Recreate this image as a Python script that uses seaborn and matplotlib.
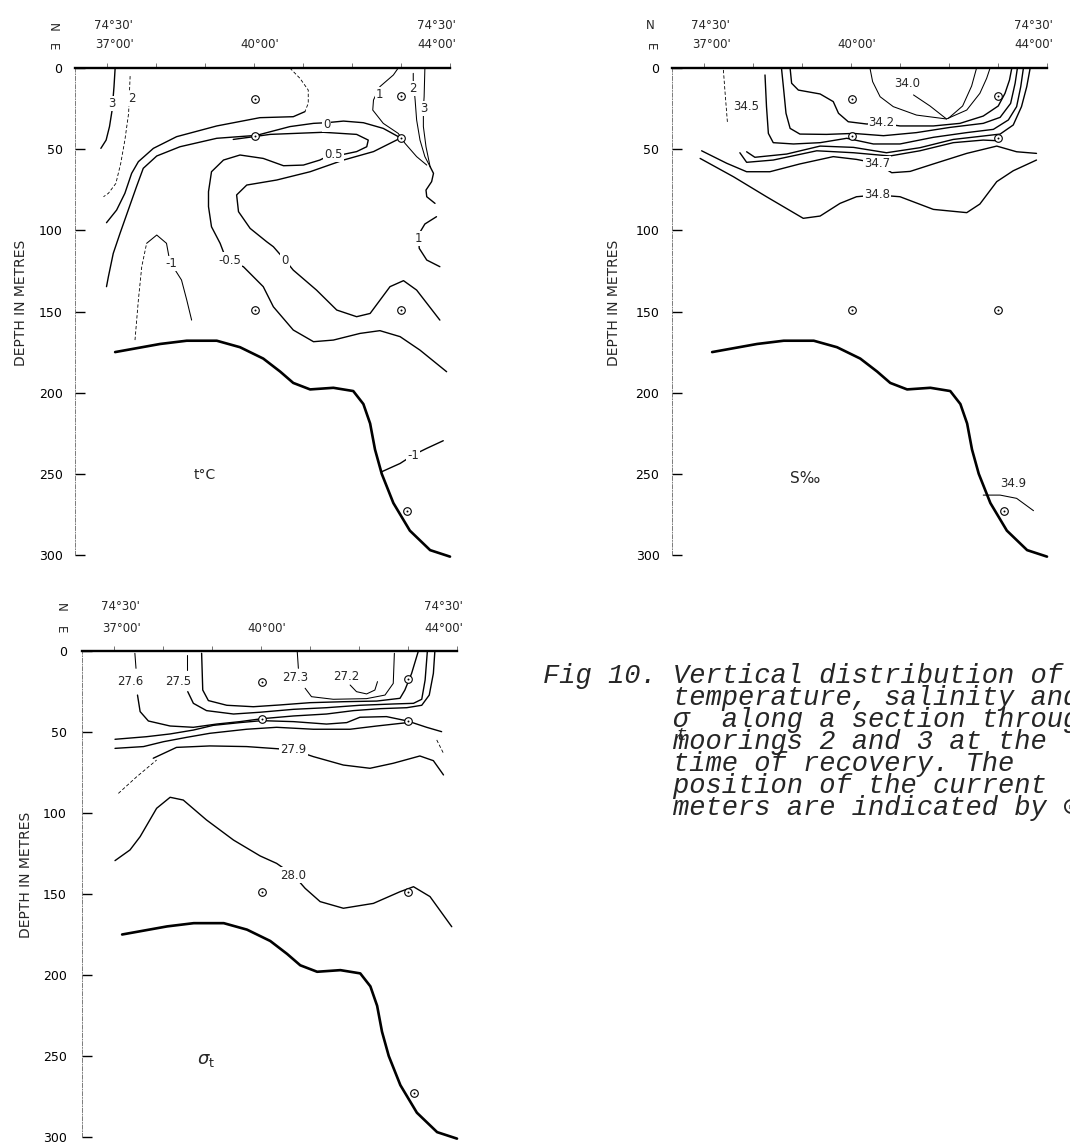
import matplotlib
matplotlib.use("Agg")
import matplotlib.pyplot as plt
import seaborn as sns

sns.set_style("white")
plt.rcParams["font.family"] = ["DejaVu Sans"]

# ---------------------------------------------------------------
# DATA  (x = distance along the section, 0 = west end of the
#        surface line, 100 = 44°00'E ; z = depth in metres)
# ---------------------------------------------------------------
depth_ticks = [0, 50, 100, 150, 200, 250, 300]
lon_ticks = [37, 38, 39, 40, 41, 42, 43, 44]
lon_tick_d = [8.4, 21.5, 34.6, 47.7, 60.8, 73.9, 86.9, 100.0]

bathy_d = [10.7, 22.7, 29.8, 37.8, 44.0, 50.2, 54.7, 58.2, 62.7, 68.9, 74.2, 76.9,
           78.7, 80.0, 81.8, 84.9, 89.3, 94.7, 100.0]
bathy_z = [175, 170, 168, 168, 172, 179, 187, 194, 198, 197, 199, 207,
           219, 235, 250, 268, 285, 297, 301]

meter_d = [48, 48, 48, 87, 87, 87, 88.5]
meter_z = [19, 42, 149, 17, 43, 149, 273]

# ---- temperature (t °C) isolines ----
t_3_d = [10.7, 10.4, 9.9, 9.2, 8.3, 6.9]
t_3_z = [0.2, 11.5, 25.9, 36.1, 44.4, 49.5]
t_2_d = [14.7, 14.3, 13.3, 12.2, 10.9, 8.9, 7.6]
t_2_z = [5.0, 27.9, 44.4, 58.7, 71.1, 77.2, 79.3]
t_1top_d = [57.3, 60.0, 62.2, 62.2, 61.3]
t_1top_z = [0.0, 6.4, 13.6, 21.8, 26.9]
t_1_d = [61.3, 58.2, 49.3, 37.8, 27.1, 20.9, 16.9, 15.1, 13.3, 11.1, 8.4]
t_1_z = [26.9, 30.0, 30.6, 35.7, 42.3, 49.5, 57.7, 64.9, 77.2, 87.5, 95.3]
t_0_d = [86.7, 82.2, 76.9, 71.6, 67.1, 63.6, 57.3, 48.4, 37.8, 28.0, 21.8, 18.2,
         16.4, 14.2, 12.0, 10.2, 8.9, 8.4]
t_0_z = [42.9, 37.2, 33.7, 32.7, 33.7, 34.1, 36.1, 41.5, 43.3, 48.5, 54.2, 61.8,
         73.1, 87.5, 101.9, 114.2, 128.6, 134.7]
t_0in_d = [86.7, 79.6, 71.6, 62.7, 53.8, 45.8, 43.1, 43.6, 46.7, 51.1, 52.9, 56.0,
           58.2, 64.4, 69.8, 75.1, 78.7, 84.0, 87.6, 91.1, 97.3]
t_0in_z = [43.3, 51.5, 56.7, 63.9, 69.0, 72.1, 78.2, 88.5, 98.8, 107.0, 110.1, 118.3,
           124.5, 136.8, 149.1, 153.2, 151.2, 134.7, 131.0, 136.8, 155.3]
t_m05_d = [42.2, 47.7, 52.0, 66.2, 75.1, 78.2, 77.8, 75.1, 71.6, 68.0, 65.3, 60.9,
           55.6, 50.2, 44.0, 39.6, 36.4, 35.6, 35.6, 36.4, 38.7, 40.4, 44.9, 50.2,
           52.9, 58.2, 63.6, 68.9, 76.0, 81.3, 86.7, 92.0, 99.1]
t_m05_z = [44.0, 42.3, 40.9, 39.6, 40.9, 44.4, 48.5, 51.5, 53.2, 53.6, 56.7, 59.8,
           60.2, 55.7, 53.6, 56.7, 63.9, 76.2, 85.4, 97.8, 108.0, 118.3, 122.4, 134.7,
           147.1, 161.4, 168.6, 167.6, 163.5, 161.8, 165.5, 173.8, 187.1]
t_m1a_d = [16.0, 16.9, 17.8, 19.1]
t_m1a_z = [167.6, 142.9, 122.4, 108.0]
t_m1b_d = [19.1, 21.8, 24.4, 25.3, 28.4, 29.8, 31.1]
t_m1b_z = [108.0, 102.9, 108.0, 119.3, 130.6, 142.9, 155.3]
t_r1_d = [86.2, 84.9, 81.3, 79.6, 79.4, 82.2, 86.2, 88.0, 91.1, 93.8]
t_r1_z = [0.0, 4.3, 11.5, 19.7, 25.9, 34.1, 40.3, 46.4, 54.6, 59.8]
t_r2_d = [90.2, 90.2, 90.7, 91.1, 92.0, 93.3, 94.7]
t_r2_z = [3.3, 7.4, 19.7, 32.0, 44.4, 54.6, 60.8]
t_r3_d = [93.3, 93.1, 92.9, 92.9, 93.6, 94.7]
t_r3_z = [0.2, 17.7, 24.9, 36.1, 48.5, 60.8]
t_wave_d = [94.7, 95.6, 95.1, 93.6, 93.8, 96.0]
t_wave_z = [60.8, 64.9, 70.0, 75.2, 79.3, 83.4]
t_r1b_d = [96.4, 93.3, 91.8, 91.6, 91.8, 93.8, 97.3]
t_r1b_z = [91.6, 96.1, 101.9, 104.9, 111.1, 118.3, 122.4]
t_m1r_d = [81.8, 86.7, 90.2, 93.8, 98.2]
t_m1r_z = [248.7, 243.6, 238.4, 234.3, 229.6]

t_lab_text = ["3", "2", "0", "0.5", "2", "3", "1", "1", "-1", "-0.5", "0", "-1"]
t_lab_d = [9.8, 15.1, 67.1, 68.9, 90.2, 92.9, 81.3, 91.6, 25.8, 41.3, 56.0, 90.2]
t_lab_z = [21.8, 18.7, 34.5, 53.4, 12.5, 24.9, 16.6, 105.0, 120.4, 118.3, 118.3, 238.4]

# ---- salinity (S ‰) isolines ----
s_345a_d = [13.7, 14.1, 14.8]
s_345a_z = [1.2, 13.6, 34.1]
s_345b_d = [24.8, 25.2, 25.7, 27.0, 32.4, 39.5, 46.6, 53.7, 60.8, 69.7, 78.6, 85.7,
            89.7, 91.9, 93.0, 93.7]
s_345b_z = [4.3, 23.8, 40.3, 46.0, 46.8, 46.0, 43.3, 46.8, 46.8, 42.7, 39.8, 37.8,
            32.0, 23.8, 11.5, 0.2]
s_346_d = [19.9, 22.1, 30.6, 39.5, 48.4, 57.2, 66.1, 75.0, 83.0, 87.5, 91.0, 93.2, 94.6, 95.5]
s_346_z = [51.6, 55.0, 53.0, 48.1, 48.9, 52.2, 49.1, 44.0, 41.9, 40.7, 35.1, 23.8, 11.5, 0.2]
s_346b_d = [18.1, 19.9, 27.0, 38.6, 48.4, 58.1, 66.1, 75.0, 83.0, 86.8]
s_346b_z = [52.2, 58.1, 56.7, 51.0, 52.2, 54.2, 51.0, 46.0, 44.4, 44.8]
s_347_d = [7.9, 14.6, 19.9, 26.1, 34.1, 43.0, 49.2, 54.6, 58.6, 63.5, 69.7, 78.6, 86.6, 91.9, 97.2]
s_347_z = [51.0, 58.7, 63.9, 63.9, 59.1, 54.6, 56.3, 58.7, 64.5, 63.7, 59.1, 52.6, 48.1, 51.6, 52.6]
s_348_d = [7.5, 16.4, 25.2, 35.0, 39.5, 44.8, 49.2, 54.6, 60.8, 69.7, 78.6, 82.1, 86.6, 91.0, 97.2]
s_348_z = [55.7, 67.0, 79.3, 92.6, 91.2, 83.4, 79.3, 78.2, 79.3, 87.1, 89.1, 83.8, 70.0, 63.3, 56.7]
s_342_d = [31.5, 31.9, 33.7, 39.5, 43.0, 44.4, 47.0, 51.9, 55.9, 60.8, 69.7, 76.8, 83.0,
           87.0, 88.8, 90.0, 90.6]
s_342_z = [0.2, 9.4, 13.6, 16.0, 20.7, 27.9, 33.1, 34.5, 34.1, 35.7, 35.7, 34.1, 29.6,
           23.4, 15.6, 7.4, 0.2]
s_343_d = [29.2, 29.7, 30.4, 31.5, 34.1, 41.2, 48.4, 56.4, 65.2, 74.1, 83.0, 87.5, 90.3, 91.5, 92.1]
s_343_z = [0.2, 11.5, 27.9, 37.2, 40.7, 40.9, 40.3, 41.7, 39.8, 36.6, 34.1, 30.4, 21.8, 9.4, 0.2]
s_340_d = [52.8, 53.5, 55.5, 59.0, 65.2, 73.2, 78.6, 82.1, 83.9, 84.8]
s_340_z = [0.2, 8.4, 17.7, 23.8, 29.0, 31.4, 25.9, 15.6, 6.4, 0.2]
s_ptr_d = [64.4, 68.8, 73.2]
s_ptr_z = [16.6, 23.4, 31.4]
s_341_d = [81.2, 79.9, 77.5, 73.7]
s_341_z = [0.2, 11.1, 23.4, 31.0]
s_349_d = [83.0, 87.5, 91.9, 96.4]
s_349_z = [263.1, 263.1, 265.1, 272.7]

s_lab_text = ["34.5", "34.0", "34.2", "34.7", "34.8", "34.9"]
s_lab_d = [19.9, 62.6, 55.9, 54.6, 54.6, 91.0]
s_lab_z = [23.8, 9.4, 33.7, 58.7, 78.2, 255.9]

# ---- sigma-t isolines ----
g_276a_d = [14.1, 14.4]
g_276a_z = [1.4, 10.7]
g_276b_d = [14.8, 15.5, 17.7, 23.5, 29.7, 35.9, 42.1, 47.9, 56.4, 65.2, 72.4, 79.5, 86.6,
            90.6, 92.6, 93.7, 94.1]
g_276b_z = [27.2, 37.4, 43.2, 46.3, 47.1, 45.1, 43.6, 41.8, 40.1, 38.9, 36.8, 35.6, 35.0,
            33.5, 27.2, 13.8, 0.0]
g_275a_d = [27.9, 27.9]
g_275a_z = [2.5, 11.7]
g_275b_d = [28.2, 29.7, 33.2, 40.4, 47.5, 56.4, 65.2, 74.1, 83.0, 88.4, 90.6, 91.5, 92.1]
g_275b_z = [25.1, 32.3, 36.8, 38.9, 37.8, 36.0, 35.0, 33.5, 32.7, 32.3, 29.8, 17.9, 0.0]
g_274_d = [31.9, 32.2, 33.7, 38.6, 45.7, 52.8, 60.8, 69.7, 78.6, 84.8, 86.1, 87.9, 89.7]
g_274_z = [1.4, 24.1, 30.6, 33.5, 34.4, 33.3, 31.9, 31.3, 30.9, 29.2, 24.1, 13.8, 0.0]
g_273a_d = [57.4, 57.7]
g_273a_z = [0.4, 10.7]
g_273b_d = [59.5, 61.2, 67.0, 75.9, 80.8, 83.0, 83.3]
g_273b_z = [23.0, 28.2, 29.8, 29.4, 27.2, 20.0, 1.4]
g_272_d = [71.5, 73.2, 75.9, 78.1, 78.8]
g_272_z = [21.0, 25.1, 26.5, 24.1, 18.9]
g_277_d = [8.8, 17.2, 23.5, 29.7, 35.0, 42.1, 47.9, 56.4, 65.2, 70.6, 74.1, 81.2, 86.8, 91.9, 95.9]
g_277_z = [54.5, 52.9, 51.2, 48.8, 45.9, 44.2, 43.0, 43.6, 45.1, 44.2, 40.9, 40.5, 43.2, 47.1, 49.8]
g_278_d = [8.8, 16.4, 21.7, 27.9, 34.1, 43.9, 51.9, 61.7, 71.5, 78.6, 86.8]
g_278_z = [60.1, 59.0, 56.0, 53.3, 50.8, 48.3, 47.1, 48.3, 48.3, 46.3, 44.2]
g_279_d = [19.0, 25.2, 34.1, 43.9, 51.9, 56.4, 61.7, 69.7, 76.8, 83.0, 90.1, 93.7, 96.4]
g_279_z = [66.2, 59.5, 58.6, 59.0, 60.3, 61.1, 65.2, 70.4, 72.4, 69.3, 64.8, 67.7, 76.5]
g_dash1_d = [9.7, 14.6, 19.9]
g_dash1_z = [87.9, 77.6, 67.3]
g_dash2_d = [94.6, 96.4]
g_dash2_z = [54.9, 63.2]
g_280_d = [8.8, 12.8, 15.5, 19.9, 23.5, 27.0, 33.2, 40.4, 47.5, 51.9, 56.4, 59.5, 63.5,
           69.7, 77.7, 84.8, 88.4, 92.8, 98.6]
g_280_z = [129.4, 122.8, 114.6, 97.1, 90.3, 92.0, 104.3, 116.7, 126.5, 131.1, 138.3, 146.5,
           154.7, 158.8, 155.8, 148.6, 145.5, 151.6, 170.2]

g_lab_text = ["27.6", "27.5", "27.3", "27.2", "27.9", "28.0"]
g_lab_d = [13.0, 25.7, 56.8, 70.6, 56.4, 56.4]
g_lab_z = [18.9, 18.9, 16.2, 15.8, 61.1, 138.3]

caption_lines = [
    "Fig 10. Vertical distribution of",
    "        temperature, salinity and",
    "        σ  along a section through",
    "        moorings 2 and 3 at the",
    "        time of recovery. The",
    "        position of the current",
    "        meters are indicated by ⊙.",
]

# ---------------------------------------------------------------
W, H = 1070, 1144
fig = plt.figure(figsize=(W / 100, H / 100), dpi=100)
fig.patch.set_facecolor("white")


def px_axes(left, top, right, bottom):
    return fig.add_axes([left / W, 1 - bottom / H, (right - left) / W, (bottom - top) / H])


ax_t = px_axes(75, 68, 450, 555)
ax_s = px_axes(672, 68, 1047, 555)
ax_g = px_axes(82, 651, 457, 1137)

STYLES = {
    "solid": dict(lw=1.0, linestyle="-"),
    "thin": dict(lw=0.75, linestyle="-"),
    "dash": dict(lw=0.6, linestyle=(0, (4, 2.5))),
}


def draw(ax, d, z, style="solid"):
    sns.lineplot(x=d, y=z, ax=ax, sort=False, estimator=None, color="black",
                 legend=False, **STYLES[style])


def style_panel(ax, ylab_x, ylab_y, pad, ne_px, row_px, rotate_n):
    ax.set_xlim(0, 100)
    ax.set_ylim(300, 0)
    ax.set_facecolor("none")
    ax.spines["right"].set_visible(False)
    ax.spines["bottom"].set_visible(False)
    ax.spines["top"].set_linewidth(1.7)
    ax.spines["top"].set_color("black")
    ax.spines["left"].set_linewidth(0.6)
    ax.spines["left"].set_color("0.4")
    ax.spines["left"].set_linestyle((0, (5, 2, 1, 2)))
    ax.set_yticks(depth_ticks)
    ax.set_yticklabels([str(v) for v in depth_ticks])
    ax.tick_params(axis="y", left=True, direction="in", length=7, width=1.0,
                   pad=pad, labelsize=9, colors="black")
    ax.set_xticks(lon_tick_d)
    ax.tick_params(axis="x", top=True, bottom=False, labeltop=False, labelbottom=False,
                   direction="out", length=3.5, width=0.7, color="0.45")
    ax.set_xlabel("")
    ax.set_ylabel("DEPTH IN METRES", fontsize=10)
    ax.yaxis.set_label_coords(ylab_x, ylab_y)
    hpx = ax.get_position().height * H
    tr = ax.get_xaxis_transform()
    n_y = 1 + ne_px[0] / hpx
    e_y = 1 + ne_px[1] / hpx
    r1 = 1 + row_px[0] / hpx
    r2 = 1 + row_px[1] / hpx
    ax.text(-5.9, n_y, "N", transform=tr, ha="center", va="center", fontsize=8.5,
            rotation=-90 if rotate_n else 0, clip_on=False)
    ax.text(-5.9, e_y, "E", transform=tr, ha="center", va="center", fontsize=8.5,
            rotation=-90, clip_on=False)
    ax.text(10.2, r1, "74°30'", transform=tr, ha="center", va="center", fontsize=8.5)
    ax.text(10.5, r2, "37°00'", transform=tr, ha="center", va="center", fontsize=8.5)
    ax.text(49.3, r2, "40°00'", transform=tr, ha="center", va="center", fontsize=8.5)
    ax.text(96.5, r1, "74°30'", transform=tr, ha="center", va="center", fontsize=8.5)
    ax.text(96.5, r2, "44°00'", transform=tr, ha="center", va="center", fontsize=8.5)


def common(ax):
    sns.lineplot(x=bathy_d, y=bathy_z, ax=ax, sort=False, estimator=None, color="black",
                 lw=1.9, legend=False, clip_on=False)
    sns.scatterplot(x=meter_d, y=meter_z, ax=ax, marker="o", s=30, color="white",
                    edgecolor="black", linewidth=0.8, zorder=6, legend=False)
    sns.scatterplot(x=meter_d, y=meter_z, ax=ax, marker="o", s=2, color="black",
                    linewidth=0, zorder=7, legend=False)


def labels(ax, texts, ds, zs, size=8.5):
    for s, d, z in zip(texts, ds, zs):
        ax.text(d, z, s, ha="center", va="center", fontsize=size, zorder=5,
                bbox=dict(facecolor="white", edgecolor="none", pad=0.8))


# ---- temperature panel ----
temp_lines = [
    (t_3_d, t_3_z, "solid"), (t_2_d, t_2_z, "dash"), (t_1top_d, t_1top_z, "dash"),
    (t_1_d, t_1_z, "solid"), (t_0_d, t_0_z, "solid"), (t_0in_d, t_0in_z, "solid"),
    (t_m05_d, t_m05_z, "solid"), (t_m1a_d, t_m1a_z, "dash"), (t_m1b_d, t_m1b_z, "thin"),
    (t_r1_d, t_r1_z, "thin"), (t_r2_d, t_r2_z, "thin"), (t_r3_d, t_r3_z, "thin"),
    (t_wave_d, t_wave_z, "solid"), (t_r1b_d, t_r1b_z, "solid"), (t_m1r_d, t_m1r_z, "solid"),
]
for d, z, st in temp_lines:
    draw(ax_t, d, z, st)
common(ax_t)
labels(ax_t, t_lab_text, t_lab_d, t_lab_z)
ax_t.text(34.7, 250.8, "t°C", ha="center", va="center", fontsize=10)
style_panel(ax_t, -0.125, 0.517, 9, (41, 21), (43, 24), True)

# ---- salinity panel ----
sal_lines = [
    (s_345a_d, s_345a_z, "dash"), (s_345b_d, s_345b_z, "solid"), (s_346_d, s_346_z, "solid"),
    (s_346b_d, s_346b_z, "solid"), (s_347_d, s_347_z, "solid"), (s_348_d, s_348_z, "solid"),
    (s_342_d, s_342_z, "solid"), (s_343_d, s_343_z, "solid"), (s_340_d, s_340_z, "thin"),
    (s_ptr_d, s_ptr_z, "thin"), (s_341_d, s_341_z, "thin"), (s_349_d, s_349_z, "thin"),
]
for d, z, st in sal_lines:
    draw(ax_s, d, z, st)
common(ax_s)
labels(ax_s, s_lab_text, s_lab_d, s_lab_z)
ax_s.text(35.5, 252.8, "S‰", ha="center", va="center", fontsize=11)
style_panel(ax_s, -0.136, 0.517, 9, (43, 21), (43, 24), False)

# ---- sigma-t panel ----
sig_lines = [
    (g_276a_d, g_276a_z, "thin"), (g_276b_d, g_276b_z, "solid"), (g_275a_d, g_275a_z, "thin"),
    (g_275b_d, g_275b_z, "solid"), (g_274_d, g_274_z, "solid"), (g_273a_d, g_273a_z, "thin"),
    (g_273b_d, g_273b_z, "thin"), (g_272_d, g_272_z, "thin"), (g_277_d, g_277_z, "solid"),
    (g_278_d, g_278_z, "solid"), (g_279_d, g_279_z, "solid"), (g_dash1_d, g_dash1_z, "dash"),
    (g_dash2_d, g_dash2_z, "dash"), (g_280_d, g_280_z, "solid"),
]
for d, z, st in sig_lines:
    draw(ax_g, d, z, st)
common(ax_g)
labels(ax_g, g_lab_text, g_lab_d, g_lab_z)
ax_g.text(33.2, 252.4, r"$\sigma_{\rm t}$", ha="center", va="center", fontsize=13)
style_panel(ax_g, -0.131, 0.54, 11, (44, 21), (44, 22), True)

# ---- caption ----
cap_font = ["Liberation Mono", "DejaVu Sans Mono"]
for i, line in enumerate(caption_lines):
    y = 683 + 22 * i
    fig.text(543 / W, 1 - y / H, line, fontfamily=cap_font, style="italic",
             fontsize=19.5, ha="left", va="baseline")
fig.text(681 / W, 1 - 740 / H, "t", fontfamily=cap_font, style="italic",
         fontsize=14, ha="center", va="baseline")

fig.savefig("out.png", dpi=100, facecolor="white")
